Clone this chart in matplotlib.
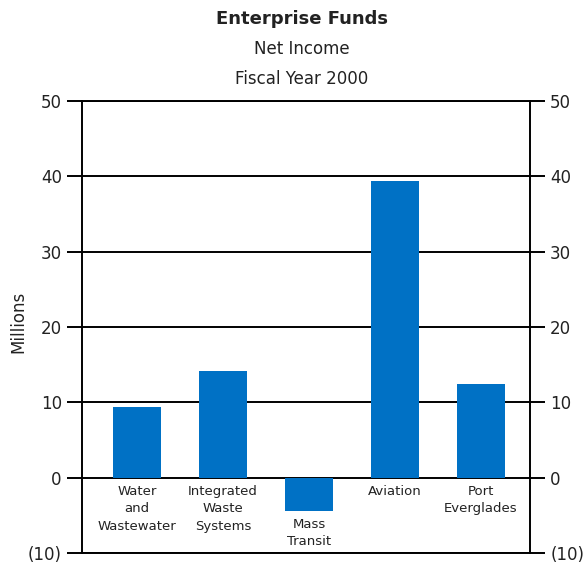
import matplotlib
matplotlib.use("Agg")
import matplotlib.pyplot as plt
import numpy as np

categories = ["Water\nand\nWastewater", "Integrated\nWaste\nSystems", "Mass\nTransit",
              "Aviation", "Port\nEverglades"]
net_income = [9.4, 14.1, -4.4, 39.4, 12.4]
y_ticks = [-10, 0, 10, 20, 30, 40, 50]
y_tick_labels = ["(10)", "0", "10", "20", "30", "40", "50"]

plt.rcParams['font.family'] = ['DejaVu Sans']

fig = plt.figure(figsize=(5.88, 5.68), dpi=100)
ax = fig.add_axes([82 / 588, 1 - 553 / 568, (530 - 82) / 588, (553 - 101) / 568])

x = np.arange(len(categories))
ax.bar(x, net_income, width=0.56, color='#0071c5', zorder=3)

ax.set_ylim(-10, 50)
ax.set_xlim(-0.64, 4.57)
ax.set_yticks(y_ticks)
ax.set_yticklabels(y_tick_labels)
ax.set_xticks([])
ax.yaxis.grid(True, color='black', linewidth=1.4, zorder=1)
ax.tick_params(axis='y', direction='out', length=11, width=1.4, labelsize=12,
               pad=3.5, left=True, right=True, labelleft=True, labelright=True,
               labelcolor='#222222')
for s in ax.spines.values():
    s.set_linewidth(1.4)
    s.set_zorder(4)

# category labels sit just below the zero line (or below a negative bar)
for i, (cat, v) in enumerate(zip(categories, net_income)):
    ax.annotate(cat, xy=(i, min(0, v)), xytext=(0, -5), textcoords='offset points',
                ha='center', va='top', fontsize=9.5, linespacing=1.45,
                color='#222222', zorder=5)

fig.text(18 / 588, 1 - 322 / 568, "Millions", rotation=90, ha='center', va='center',
         fontsize=12, color='#222222')

fig.text(302 / 588, 1 - 19 / 568, "Enterprise Funds", ha='center', va='center',
         fontsize=13, fontweight='bold', color='#222222')
fig.text(302 / 588, 1 - 49 / 568, "Net Income", ha='center', va='center',
         fontsize=12, color='#222222')
fig.text(302 / 588, 1 - 79 / 568, "Fiscal Year 2000", ha='center', va='center',
         fontsize=12, color='#222222')

fig.savefig("out.png", dpi=100)
